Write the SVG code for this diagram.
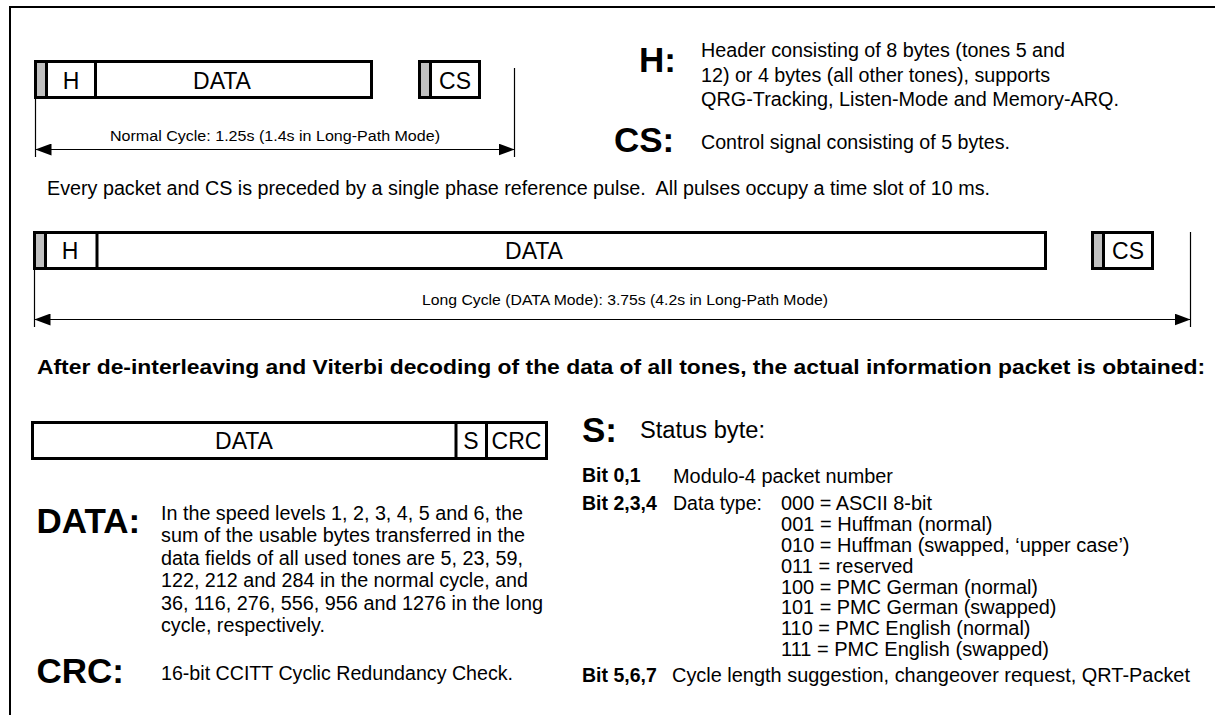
<svg xmlns="http://www.w3.org/2000/svg" width="1215" height="715" viewBox="0 0 1215 715">
<defs>
<style>
.pk{fill:#fff;stroke:#000;stroke-width:3}
.pulse{fill:#c0c0c0;stroke:none}
.div{stroke:#000;stroke-width:3}
.thin{stroke:#000;stroke-width:1.2;fill:none}
.frame{stroke:#000;stroke-width:2;fill:none}
text{font-family:"Liberation Sans",Arial,sans-serif;fill:#000}
.lbl{font-size:23px;text-anchor:middle}
.t{font-size:19.5px}
.b{font-weight:bold}
.big{font-size:35px;font-weight:bold}
.cyc{font-size:15.5px}
.hd{font-size:21px;font-weight:bold}
.st{font-size:23px}
</style>
<marker id="ah" markerUnits="userSpaceOnUse" markerWidth="16" markerHeight="12" refX="16" refY="6" orient="auto-start-reverse">
<path d="M0,0 L16,6 L0,12 Z" fill="#000"/>
</marker>
</defs>
<rect width="1215" height="715" fill="#fff"/>
<path class="frame" d="M10,715 V7 H1215"/>

<g id="normal-packet">
<rect class="pk" x="35.5" y="61.5" width="336" height="36"/>
<rect class="pulse" x="37" y="63" width="9" height="33"/>
<line class="div" x1="46.5" y1="61.5" x2="46.5" y2="97.5"/>
<line class="div" x1="95.5" y1="61.5" x2="95.5" y2="97.5"/>
<text class="lbl" x="71" y="89">H</text>
<text class="lbl" x="222" y="89">DATA</text>
</g>
<g id="normal-cs">
<rect class="pk" x="419.5" y="61.5" width="60" height="36"/>
<rect class="pulse" x="421" y="63" width="8" height="33"/>
<line class="div" x1="430.5" y1="61.5" x2="430.5" y2="97.5"/>
<text class="lbl" x="455" y="89">CS</text>
</g>
<g id="normal-cycle-label">
<text class="cyc" x="110" y="141" textLength="330" lengthAdjust="spacingAndGlyphs">Normal Cycle: 1.25s (1.4s in Long-Path Mode)</text>
</g>

<g id="legend-h">
<text class="big" x="639" y="72">H:</text>
<text class="t" x="701" y="57" textLength="364" lengthAdjust="spacingAndGlyphs">Header consisting of 8 bytes (tones 5 and</text>
<text class="t" x="701" y="81.5" textLength="349" lengthAdjust="spacingAndGlyphs">12) or 4 bytes (all other tones), supports</text>
<text class="t" x="701" y="106" textLength="418" lengthAdjust="spacingAndGlyphs">QRG-Tracking, Listen-Mode and Memory-ARQ.</text>
</g>
<g id="legend-cs">
<text class="big" x="614" y="151.5">CS:</text>
<text class="t" x="701" y="148.5" textLength="309" lengthAdjust="spacingAndGlyphs">Control signal consisting of 5 bytes.</text>
</g>

<g id="note-pulse">
<text class="t" x="47" y="195" textLength="943" lengthAdjust="spacingAndGlyphs" xml:space="preserve">Every packet and CS is preceded by a single phase reference pulse.  All pulses occupy a time slot of 10 ms.</text>
</g>

<g id="long-packet">
<rect class="pk" x="34.5" y="232.5" width="1011" height="36"/>
<rect class="pulse" x="36" y="234" width="8" height="33"/>
<line class="div" x1="45.5" y1="232.5" x2="45.5" y2="268.5"/>
<line class="div" x1="97" y1="232.5" x2="97" y2="268.5"/>
<text class="lbl" x="70" y="259">H</text>
<text class="lbl" x="534" y="259">DATA</text>
</g>
<g id="long-cs">
<rect class="pk" x="1092.5" y="232.5" width="60" height="36"/>
<rect class="pulse" x="1094" y="234" width="8" height="33"/>
<line class="div" x1="1103.5" y1="232.5" x2="1103.5" y2="268.5"/>
<text class="lbl" x="1128" y="259">CS</text>
</g>
<g id="long-cycle-label">
<text class="cyc" x="422" y="305" textLength="406" lengthAdjust="spacingAndGlyphs">Long Cycle (DATA Mode): 3.75s (4.2s in Long-Path Mode)</text>
</g>

<g id="connectors">
<line class="thin" x1="35.5" y1="99" x2="35.5" y2="157"/>
<line class="thin" x1="514.5" y1="68" x2="514.5" y2="157"/>
<line class="thin" x1="35.5" y1="149.5" x2="514.5" y2="149.5" marker-start="url(#ah)" marker-end="url(#ah)"/>
<line class="thin" x1="34.5" y1="270" x2="34.5" y2="327"/>
<line class="thin" x1="1190.5" y1="232" x2="1190.5" y2="327"/>
<line class="thin" x1="34.5" y1="319.5" x2="1190.5" y2="319.5" marker-start="url(#ah)" marker-end="url(#ah)"/>
</g>

<g id="heading">
<text class="hd" x="37" y="374" textLength="1168" lengthAdjust="spacingAndGlyphs">After de-interleaving and Viterbi decoding of the data of all tones, the actual information packet is obtained:</text>
</g>

<g id="info-packet">
<rect class="pk" x="32.5" y="422.5" width="514" height="36"/>
<line class="div" x1="456" y1="422.5" x2="456" y2="458.5"/>
<line class="div" x1="486.5" y1="422.5" x2="486.5" y2="458.5"/>
<text class="lbl" x="244" y="449">DATA</text>
<text class="lbl" x="471" y="449">S</text>
<text class="lbl" x="516.5" y="449">CRC</text>
</g>

<g id="legend-data">
<text class="big" x="36.5" y="533">DATA:</text>
<text class="t" x="161" y="519.5" textLength="362" lengthAdjust="spacingAndGlyphs">In the speed levels 1, 2, 3, 4, 5 and 6, the</text>
<text class="t" x="161" y="542" textLength="364" lengthAdjust="spacingAndGlyphs">sum of the usable bytes transferred in the</text>
<text class="t" x="161" y="564.5" textLength="362" lengthAdjust="spacingAndGlyphs">data fields of all used tones are 5, 23, 59,</text>
<text class="t" x="161" y="587" textLength="367" lengthAdjust="spacingAndGlyphs">122, 212 and 284 in the normal cycle, and</text>
<text class="t" x="161" y="609.5" textLength="382" lengthAdjust="spacingAndGlyphs">36, 116, 276, 556, 956 and 1276 in the long</text>
<text class="t" x="161" y="632" textLength="164" lengthAdjust="spacingAndGlyphs">cycle, respectively.</text>
</g>
<g id="legend-crc">
<text class="big" x="36.5" y="683">CRC:</text>
<text class="t" x="161" y="680" textLength="352" lengthAdjust="spacingAndGlyphs">16-bit CCITT Cyclic Redundancy Check.</text>
</g>

<g id="legend-s">
<text class="big" x="582" y="442">S:</text>
<text class="st" x="640" y="438" textLength="125" lengthAdjust="spacingAndGlyphs">Status byte:</text>
<text class="t b" x="582" y="482">Bit 0,1</text>
<text class="t" x="673" y="483" textLength="220" lengthAdjust="spacingAndGlyphs">Modulo-4 packet number</text>
<text class="t b" x="582" y="510">Bit 2,3,4</text>
<text class="t" x="673" y="510" textLength="89" lengthAdjust="spacingAndGlyphs">Data type:</text>
<text class="t" x="781" y="510" textLength="151" lengthAdjust="spacingAndGlyphs">000 = ASCII 8-bit</text>
<text class="t" x="781" y="531" textLength="211.5" lengthAdjust="spacingAndGlyphs">001 = Huffman (normal)</text>
<text class="t" x="781" y="552" textLength="348.5" lengthAdjust="spacingAndGlyphs">010 = Huffman (swapped, ‘upper case’)</text>
<text class="t" x="781" y="573" textLength="132.5" lengthAdjust="spacingAndGlyphs">011 = reserved</text>
<text class="t" x="781" y="593.5" textLength="257" lengthAdjust="spacingAndGlyphs">100 = PMC German (normal)</text>
<text class="t" x="781" y="614" textLength="275.5" lengthAdjust="spacingAndGlyphs">101 = PMC German (swapped)</text>
<text class="t" x="781" y="635" textLength="249.5" lengthAdjust="spacingAndGlyphs">110 = PMC English (normal)</text>
<text class="t" x="781" y="656" textLength="268" lengthAdjust="spacingAndGlyphs">111 = PMC English (swapped)</text>
<text class="t b" x="582" y="682">Bit 5,6,7</text>
<text class="t" x="672" y="682" textLength="518" lengthAdjust="spacingAndGlyphs">Cycle length suggestion, changeover request, QRT-Packet</text>
</g>
</svg>
